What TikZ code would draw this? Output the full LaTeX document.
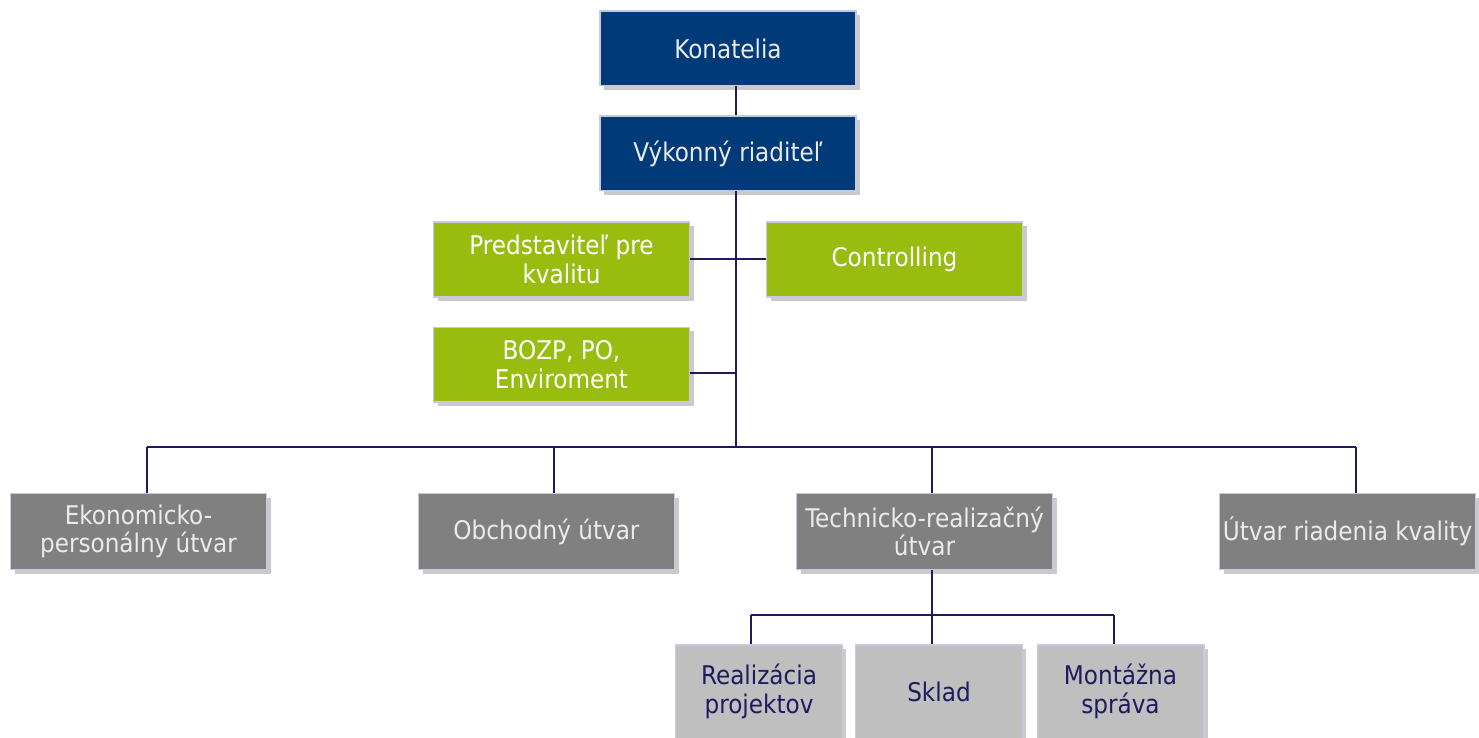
\documentclass[tikz,border=0pt]{standalone}
\usepackage{fontspec}
\setmainfont{DejaVu Sans Condensed}
\usetikzlibrary{shadows}
\definecolor{navybox}{HTML}{003A78}
\definecolor{greenbox}{HTML}{99BD0F}
\definecolor{darkgraybox}{HTML}{808080}
\definecolor{lightgraybox}{HTML}{BFBFBF}
\definecolor{linecol}{HTML}{1F1A5F}
\definecolor{bordercol}{HTML}{C8C8E0}
\tikzset{
  boxbase/.style={draw=bordercol, line width=1pt, align=center, inner sep=1pt,
    font=\fontsize{19.3pt}{21.5pt}\selectfont,
    drop shadow={shadow xshift=3pt, shadow yshift=-3pt, opacity=0.35, fill=black!60}},
  bluebox/.style={boxbase, fill=navybox, text=white!92!black, minimum width=192pt, minimum height=56pt},
  greenbx/.style={boxbase, fill=greenbox, text=white, minimum width=192pt, minimum height=56pt},
  graybox/.style={boxbase, fill=darkgraybox, text=white!92!black, minimum width=192pt, minimum height=57pt},
  subbox/.style={boxbase, fill=lightgraybox, text=linecol, minimum width=125pt, minimum height=70pt},
  conn/.style={draw=linecol, line width=1.5pt},
}
\begin{document}
\begin{tikzpicture}[x=0.75pt, y=-0.75pt]
\useasboundingbox (0,0) rectangle (1479,738);
\node[bluebox] (kon) at (728,48.5) {Konatelia};
\node[bluebox] (vyk) at (728,153.5) {Výkonný riaditeľ};
\node[greenbx] (pred) at (561.5,259.5) {Predstaviteľ pre\\kvalitu};
\node[greenbx] (ctrl) at (894.5,259.5) {Controlling};
\node[greenbx] (bozp) at (561.5,364.5) {BOZP, PO,\\Enviroment};
\node[graybox] (eko) at (138.5,531.5) {Ekonomicko-\\personálny útvar};
\node[graybox] (obch) at (546.5,531.5) {Obchodný útvar};
\node[graybox] (tech) at (924.5,531.5) {Technicko-realizačný\\útvar};
\node[graybox] (utv) at (1347.5,531.5) {Útvar riadenia kvality};
\node[subbox] (real) at (759,691.5) {Realizácia\\projektov};
\node[subbox] (skl) at (939,691.5) {Sklad};
\node[subbox] (mont) at (1120.5,691.5) {Montážna\\správa};
\coordinate (trunk) at (736,447);
\coordinate (bl) at (147,447);
\coordinate (bo) at (554,447);
\coordinate (bt) at (932,447);
\coordinate (bu) at (1356,447);
\coordinate (sub) at (932,615);
\coordinate (sl) at (751,615);
\coordinate (sr) at (1114,615);
\path[conn] (kon.south -| trunk) -- (vyk.north -| trunk);
\path[conn] (vyk.south -| trunk) -- (trunk);
\path[conn] (pred.east |- 0,259) -- (ctrl.west |- 0,259);
\path[conn] (bozp.east |- 0,373) -- (trunk |- 0,373);
\path[conn] (bl) -- (bu);
\path[conn] (bl) -- (eko.north -| bl);
\path[conn] (bo) -- (obch.north -| bo);
\path[conn] (bt) -- (tech.north -| bt);
\path[conn] (bu) -- (utv.north -| bu);
\path[conn] (tech.south -| sub) -- (skl.north -| sub);
\path[conn] (sl) -- (sr);
\path[conn] (sl) -- (real.north -| sl);
\path[conn] (sr) -- (mont.north -| sr);
\end{tikzpicture}
\end{document}
